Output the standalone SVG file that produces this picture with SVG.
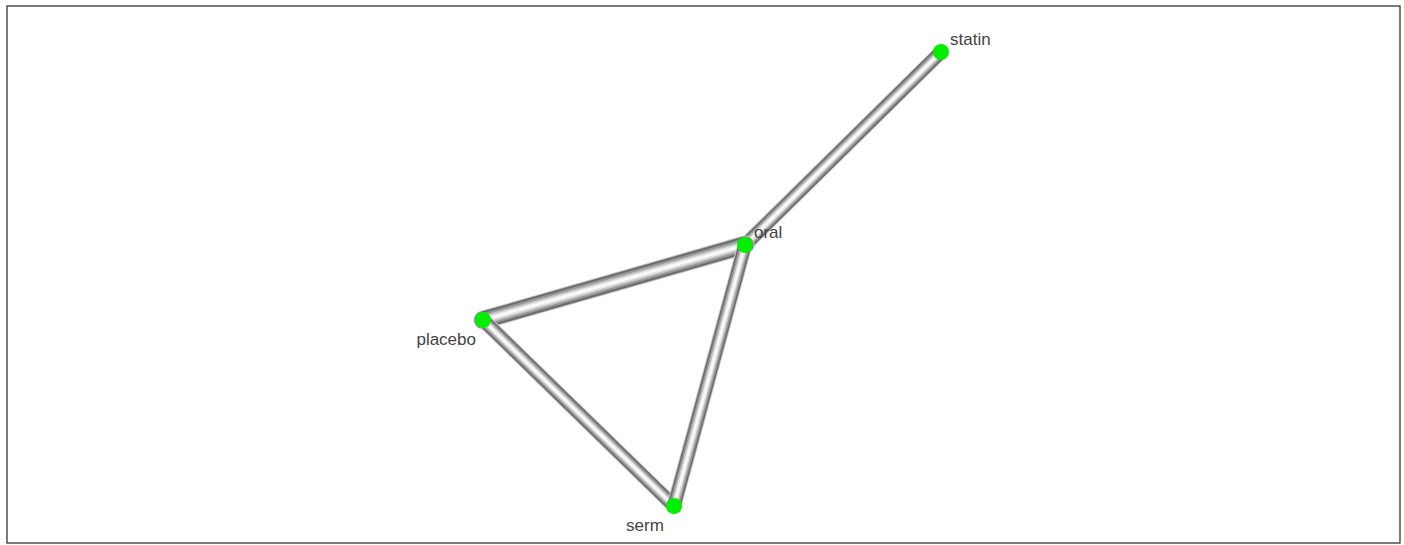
<svg xmlns="http://www.w3.org/2000/svg" width="1404" height="545" viewBox="0 0 1404 545">
<style>
.frame{fill:#fff;stroke:#333;stroke-width:1.3}
line{stroke-linecap:round;fill:none}
.t0{stroke:#c8c8c8}
.t1{stroke:#6c6c6c}
.t2{stroke:#969696}
.t3{stroke:#c2c2c2}
.t4{stroke:#e6e6e6}
.t5{stroke:#fbfbfb}
.node{fill:#00ee00}
.lbl{font-family:"Liberation Sans",Arial,sans-serif;font-size:17px;fill:#444}
</style>
<rect class="frame" x="7" y="6" width="1393" height="537"/>
<g id="connectors">
<g id="e-statin-oral">
<line class="t0" x1="941" y1="52" x2="745" y2="245" stroke-width="15"/>
<line class="t1" x1="941" y1="52" x2="745" y2="245" stroke-width="13"/>
<line class="t2" x1="941" y1="52" x2="745" y2="245" stroke-width="10"/>
<line class="t3" x1="941" y1="52" x2="745" y2="245" stroke-width="7"/>
<line class="t4" x1="941" y1="52" x2="745" y2="245" stroke-width="4.5"/>
<line class="t5" x1="941" y1="52" x2="745" y2="245" stroke-width="2"/>
</g>
<g id="e-oral-placebo">
<line class="t0" x1="745" y1="245" x2="483" y2="320" stroke-width="19"/>
<line class="t1" x1="745" y1="245" x2="483" y2="320" stroke-width="17"/>
<line class="t2" x1="745" y1="245" x2="483" y2="320" stroke-width="13"/>
<line class="t3" x1="745" y1="245" x2="483" y2="320" stroke-width="9"/>
<line class="t4" x1="745" y1="245" x2="483" y2="320" stroke-width="5.5"/>
<line class="t5" x1="745" y1="245" x2="483" y2="320" stroke-width="2.4"/>
</g>
<g id="e-placebo-serm">
<line class="t0" x1="483" y1="320" x2="674" y2="506" stroke-width="15"/>
<line class="t1" x1="483" y1="320" x2="674" y2="506" stroke-width="13"/>
<line class="t2" x1="483" y1="320" x2="674" y2="506" stroke-width="10"/>
<line class="t3" x1="483" y1="320" x2="674" y2="506" stroke-width="7"/>
<line class="t4" x1="483" y1="320" x2="674" y2="506" stroke-width="4.5"/>
<line class="t5" x1="483" y1="320" x2="674" y2="506" stroke-width="2"/>
</g>
<g id="e-oral-serm">
<line class="t0" x1="745" y1="245" x2="674" y2="506" stroke-width="15"/>
<line class="t1" x1="745" y1="245" x2="674" y2="506" stroke-width="13"/>
<line class="t2" x1="745" y1="245" x2="674" y2="506" stroke-width="10"/>
<line class="t3" x1="745" y1="245" x2="674" y2="506" stroke-width="7"/>
<line class="t4" x1="745" y1="245" x2="674" y2="506" stroke-width="4.5"/>
<line class="t5" x1="745" y1="245" x2="674" y2="506" stroke-width="2"/>
</g>
</g>
<g id="node-statin"><circle class="node" cx="941" cy="52" r="8"/><text class="lbl" x="950" y="45">statin</text></g>
<g id="node-oral"><circle class="node" cx="745" cy="245" r="8"/><text class="lbl" x="754" y="238">oral</text></g>
<g id="node-placebo"><circle class="node" cx="483" cy="320" r="8"/><text class="lbl" x="476" y="345" text-anchor="end">placebo</text></g>
<g id="node-serm"><circle class="node" cx="674" cy="506" r="8"/><text class="lbl" x="645" y="531" text-anchor="middle">serm</text></g>
</svg>
